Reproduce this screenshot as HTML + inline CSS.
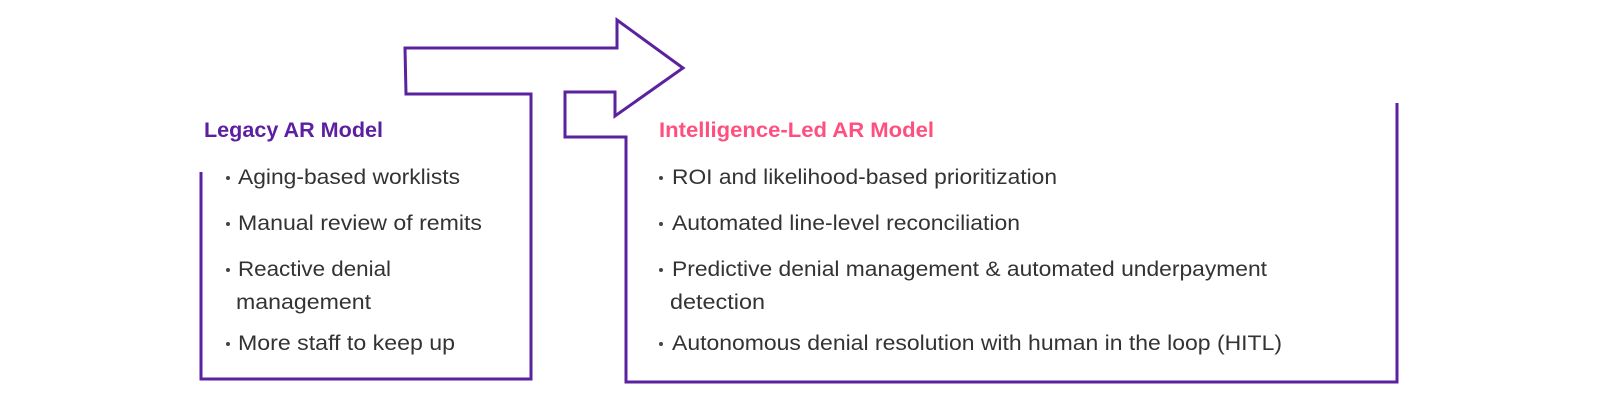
<!DOCTYPE html>
<html><head><meta charset="utf-8"><style>
html,body{margin:0;padding:0;background:#fff;width:1600px;height:403px;overflow:hidden}
svg{display:block}
text{font-family:"Liberation Sans",sans-serif}
.h{font-weight:bold;font-size:21px}
.b{font-size:21px;fill:#333}
</style></head><body>
<svg width="1600" height="403" viewBox="0 0 1600 403">
<path d="M201,172 L201,379 L531,379 L531,94 L406,94 L405,48 L617,48 L617,20 L683,68 L615,116 L615,92 L565,92 L565,137 L626,137 L626,382 L1397,382 L1397,103" fill="none" stroke="#5b22a0" stroke-width="3"/>
<text class="h" x="204" y="137" fill="#5b1fa0" textLength="179" lengthAdjust="spacingAndGlyphs">Legacy AR Model</text>
<g fill="#444">
<circle cx="228" cy="178" r="2"/><circle cx="228" cy="224" r="2"/><circle cx="228" cy="270" r="2"/><circle cx="228" cy="344" r="2"/>
<circle cx="661" cy="178" r="2"/><circle cx="661" cy="224" r="2"/><circle cx="661" cy="270" r="2"/><circle cx="661" cy="344" r="2"/>
</g>
<text class="b" x="238" y="184" textLength="222" lengthAdjust="spacingAndGlyphs">Aging-based worklists</text>
<text class="b" x="238" y="230" textLength="244" lengthAdjust="spacingAndGlyphs">Manual review of remits</text>
<text class="b" x="238" y="276" textLength="153" lengthAdjust="spacingAndGlyphs">Reactive denial</text>
<text class="b" x="236" y="309" textLength="135" lengthAdjust="spacingAndGlyphs">management</text>
<text class="b" x="238" y="350" textLength="217" lengthAdjust="spacingAndGlyphs">More staff to keep up</text>
<text class="h" x="659" y="137" fill="#ff4f7f" textLength="275" lengthAdjust="spacingAndGlyphs">Intelligence-Led AR Model</text>
<text class="b" x="672" y="184" textLength="385" lengthAdjust="spacingAndGlyphs">ROI and likelihood-based prioritization</text>
<text class="b" x="672" y="230" textLength="348" lengthAdjust="spacingAndGlyphs">Automated line-level reconciliation</text>
<text class="b" x="672" y="276" textLength="595" lengthAdjust="spacingAndGlyphs">Predictive denial management &amp; automated underpayment</text>
<text class="b" x="670" y="309" textLength="95" lengthAdjust="spacingAndGlyphs">detection</text>
<text class="b" x="672" y="350" textLength="610" lengthAdjust="spacingAndGlyphs">Autonomous denial resolution with human in the loop (HITL)</text>
</svg>
</body></html>
